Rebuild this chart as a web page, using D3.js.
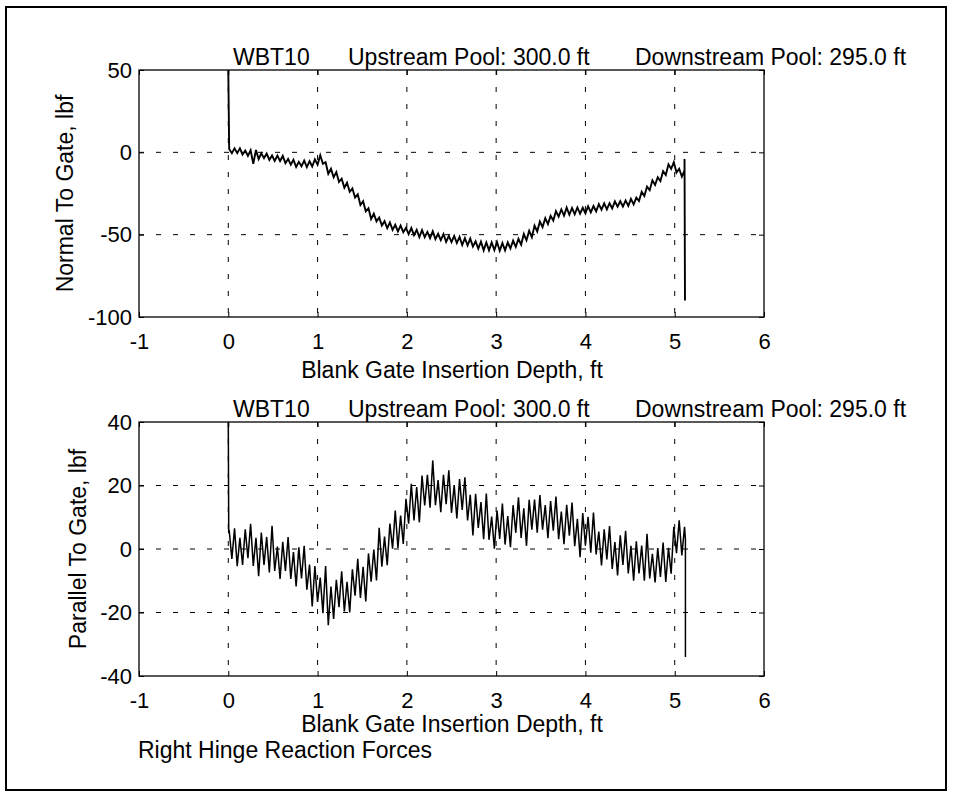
<!DOCTYPE html>
<html>
<head>
<meta charset="utf-8">
<script src="https://cdn.jsdelivr.net/npm/d3@7"></script>
<style>
  html, body { margin: 0; padding: 0; background: #fff; }
  svg { display: block; }
  text { font-family: "Liberation Sans", Arial, Helvetica, sans-serif; fill: #000; }
</style>
</head>
<body>
<svg id="chart" width="953" height="795"></svg>
<script>
// ---------------- DATA ----------------
const titleParts = ["WBT10", "Upstream Pool: 300.0 ft", "Downstream Pool: 295.0 ft"];
const xTicks = [-1, 0, 1, 2, 3, 4, 5, 6];
const yTicksTop = [50, 0, -50, -100];
const yTicksBottom = [40, 20, 0, -20, -40];
const xLabel = "Blank Gate Insertion Depth, ft";
const yLabelTop = "Normal To Gate, lbf";
const yLabelBottom = "Parallel To Gate, lbf";
const footer = "Right Hinge Reaction Forces";

// [depth ft, force lbf]
const normalToGate = [[0,50],[0.01,2],[0.04,-0.5],[0.07,2.4],[0.10,-0.5],[0.13,2.4],[0.16,-1.3],[0.19,1],[0.22,-2.1],[0.25,1.3],[0.28,-7],[0.31,1.4],[0.34,-4.1],[0.37,-0.6],[0.40,-3.5],[0.43,-0.8],[0.46,-4.6],[0.49,-1.9],[0.52,-5.2],[0.55,-2],[0.58,-5.3],[0.61,-2.2],[0.64,-6.6],[0.67,-4],[0.70,-7.5],[0.73,-4.5],[0.76,-8.9],[0.79,-5.8],[0.82,-8.5],[0.85,-5],[0.88,-9],[0.91,-5.4],[0.94,-8.6],[0.97,-4.3],[1.00,-7.5],[1.03,-1.8],[1.06,-7],[1.09,-6],[1.12,-13],[1.15,-10],[1.18,-15.2],[1.21,-12],[1.24,-18],[1.27,-16],[1.30,-21.5],[1.33,-18.5],[1.36,-24],[1.39,-22],[1.42,-27.5],[1.45,-25.5],[1.48,-32],[1.51,-29.7],[1.54,-35.8],[1.57,-34],[1.60,-40.5],[1.63,-37.2],[1.66,-41.9],[1.69,-39.6],[1.72,-44.5],[1.75,-41.8],[1.78,-46],[1.81,-42.6],[1.84,-47.1],[1.87,-44],[1.90,-48],[1.93,-44.5],[1.96,-48.5],[1.99,-45.9],[2.02,-49.7],[2.05,-46],[2.08,-50.3],[2.11,-47.1],[2.14,-51.4],[2.17,-47.2],[2.20,-51.5],[2.23,-48.3],[2.26,-52.1],[2.29,-47.9],[2.32,-52.7],[2.35,-49.5],[2.38,-53.3],[2.41,-49.6],[2.44,-54.4],[2.47,-50.7],[2.50,-54.5],[2.53,-50.8],[2.56,-55.1],[2.59,-51.4],[2.62,-56.3],[2.65,-52.1],[2.68,-56.5],[2.71,-52.4],[2.74,-57.2],[2.77,-54.1],[2.80,-58.5],[2.83,-54.2],[2.86,-59.5],[2.89,-54.7],[2.92,-59.5],[2.95,-54.7],[2.98,-59.4],[3.01,-54.5],[3.04,-59.8],[3.07,-55.1],[3.10,-59.5],[3.13,-54.7],[3.16,-58.4],[3.19,-53.6],[3.22,-57.4],[3.25,-52.5],[3.28,-56.1],[3.31,-49.6],[3.34,-53.4],[3.37,-47.7],[3.40,-51.5],[3.43,-44.5],[3.46,-48],[3.49,-42],[3.52,-45.4],[3.55,-40],[3.58,-43.6],[3.61,-38.6],[3.64,-41.4],[3.67,-35.7],[3.70,-39],[3.73,-34.7],[3.76,-38.4],[3.79,-33.6],[3.82,-37.9],[3.85,-33.8],[3.88,-37.6],[3.91,-33.5],[3.94,-37.3],[3.97,-33.7],[4.00,-37],[4.03,-32.7],[4.06,-36.4],[4.09,-32.6],[4.12,-35.8],[4.15,-31.5],[4.18,-34.8],[4.21,-31],[4.24,-34.7],[4.27,-30.9],[4.30,-34.1],[4.33,-29.8],[4.36,-33],[4.39,-29.7],[4.42,-32.9],[4.45,-29.2],[4.48,-32.5],[4.51,-28.3],[4.54,-31.6],[4.57,-27.5],[4.60,-29.5],[4.63,-24],[4.66,-26.5],[4.69,-20.8],[4.72,-23],[4.75,-17],[4.78,-19.8],[4.81,-15.1],[4.84,-17.4],[4.87,-11.5],[4.90,-13.8],[4.93,-7.3],[4.96,-10],[4.99,-6],[5.02,-12.3],[5.05,-10],[5.08,-14.7],[5.11,-11],[5.11,-4],[5.115,-90]];

const parallelToGate = [[0,40],[0.005,5],[0.01,6],[0.04,-3.1],[0.07,6.5],[0.10,-5.4],[0.13,3.5],[0.16,-5],[0.19,6.2],[0.22,-2.9],[0.25,7.9],[0.28,-5.3],[0.31,3.5],[0.34,-8.6],[0.37,5.2],[0.40,-5],[0.43,3.8],[0.46,-7.4],[0.49,7.3],[0.52,-6.9],[0.55,0.8],[0.58,-9.4],[0.61,2.3],[0.64,-6.9],[0.67,3.8],[0.70,-9.4],[0.73,-1],[0.76,-11.8],[0.79,0.5],[0.82,-9.3],[0.85,1],[0.88,-12.8],[0.91,-4.9],[0.94,-18.1],[0.97,-5.4],[1.00,-16.7],[1.03,-9],[1.06,-20.2],[1.09,-5.4],[1.12,-24],[1.15,-11.8],[1.18,-22],[1.21,-9.7],[1.24,-18.3],[1.27,-7],[1.30,-19.7],[1.33,-10.3],[1.36,-20],[1.39,-6.4],[1.42,-14.7],[1.45,-3.1],[1.48,-15.4],[1.51,-5.6],[1.54,-16.5],[1.57,-1.4],[1.60,-10.3],[1.63,-0.2],[1.66,-9.9],[1.69,6.7],[1.72,-5.6],[1.75,3.9],[1.78,-5.1],[1.81,8],[1.84,0.1],[1.87,12.1],[1.90,0.3],[1.93,10.5],[1.96,1.6],[1.99,15.8],[2.02,8],[2.05,20.5],[2.08,9],[2.11,19.5],[2.14,8.4],[2.17,23.1],[2.20,13.7],[2.23,23.4],[2.26,13],[2.29,27.9],[2.32,13.8],[2.35,21.7],[2.38,11.6],[2.41,23.4],[2.44,14.1],[2.47,24.8],[2.50,11.4],[2.53,20.1],[2.56,9.6],[2.59,22],[2.62,12.3],[2.65,22.6],[2.68,9],[2.71,17.1],[2.74,4.3],[2.77,17.4],[2.80,6.6],[2.83,14.8],[2.86,3.1],[2.89,17.5],[2.92,2.9],[2.95,10.2],[2.98,0.1],[3.01,12.1],[3.04,3.2],[3.07,14.3],[3.10,1.4],[3.13,10.4],[3.16,0.6],[3.19,13.8],[3.22,5.1],[3.25,16.3],[3.28,3.5],[3.31,12.8],[3.34,1],[3.37,15.5],[3.40,6.1],[3.43,15.6],[3.46,5.1],[3.49,17],[3.52,6.1],[3.55,13.8],[3.58,3.4],[3.61,15.1],[3.64,5.8],[3.67,16.5],[3.70,3.1],[3.73,11.8],[3.76,1.5],[3.79,13.9],[3.82,4.2],[3.85,14.6],[3.88,0.9],[3.91,9.5],[3.94,-2.6],[3.97,11.3],[4.00,1.2],[4.03,10.1],[4.06,-1.2],[4.09,11.5],[4.12,-1.7],[4.15,5.5],[4.18,-5.2],[4.21,6.2],[4.24,-3.3],[4.27,7.2],[4.30,-6.3],[4.33,2.2],[4.36,-8.3],[4.39,4.3],[4.42,-5],[4.45,5.7],[4.48,-7.7],[4.51,1],[4.54,-10],[4.57,2.4],[4.60,-7.7],[4.63,1.1],[4.66,-10],[4.69,4.8],[4.72,-9.3],[4.75,-1.5],[4.78,-10.5],[4.81,0.3],[4.84,-8.8],[4.87,2],[4.90,-10.4],[4.93,0.4],[4.96,-7.8],[4.99,7],[5.02,-1.3],[5.05,9],[5.08,-2],[5.11,7],[5.12,3],[5.12,-34]];

// ---------------- DRAW ----------------
const svg = d3.select("#chart");
const FONT = 23, TICKFONT = 22;

// outer frame
svg.append("rect").attr("x", 6).attr("y", 7).attr("width", 940).attr("height", 783)
  .attr("fill", "none").attr("stroke", "#000").attr("stroke-width", 2);

function panel(cfg) {
  const x = d3.scaleLinear().domain([-1, 6]).range([139, 764]);
  const y = d3.scaleLinear().domain(cfg.yDomain).range(cfg.yRange);
  const g = svg.append("g");
  const [y0, y1] = cfg.yRange;

  // grid
  const gx = xTicks.filter(t => t > -1 && t < 6);
  const gy = cfg.yTicks.filter(t => t > cfg.yDomain[0] && t < cfg.yDomain[1]);
  g.selectAll(".vg").data(gx).join("line")
    .attr("x1", d => x(d)).attr("x2", d => x(d)).attr("y1", y1).attr("y2", y0)
    .attr("stroke", "#000").attr("stroke-width", 1).attr("stroke-dasharray", "5,12");
  g.selectAll(".hg").data(gy).join("line")
    .attr("x1", 139).attr("x2", 764).attr("y1", d => y(d)).attr("y2", d => y(d))
    .attr("stroke", "#000").attr("stroke-width", 1).attr("stroke-dasharray", "5,12");

  // axes
  const fmt = d => String(d);
  const ax = g.append("g").attr("transform", `translate(0,${y0})`)
    .call(d3.axisBottom(x).tickValues(xTicks).tickFormat(fmt).tickSize(-5).tickPadding(16));
  const ay = g.append("g").attr("transform", `translate(139,0)`)
    .call(d3.axisLeft(y).tickValues(cfg.yTicks).tickFormat(fmt).tickSize(-5).tickPadding(7));
  const axT = g.append("g").attr("transform", `translate(0,${y1})`)
    .call(d3.axisTop(x).tickValues(xTicks).tickFormat("").tickSize(-5));
  const ayR = g.append("g").attr("transform", `translate(764,0)`)
    .call(d3.axisRight(y).tickValues(cfg.yTicks).tickFormat("").tickSize(-5));
  [ax, ay, axT, ayR].forEach(a => {
    a.select(".domain").remove();
    a.selectAll("line").attr("stroke", "#000");
    a.selectAll("text").attr("font-size", TICKFONT)
      .attr("font-family", '"Liberation Sans", Arial, Helvetica, sans-serif').attr("fill", "#000");
  });

  // data line
  const line = d3.line().x(d => x(d[0])).y(d => y(d[1]));
  g.append("path").datum(cfg.data).attr("d", line)
    .attr("fill", "none").attr("stroke", "#000").attr("stroke-width", cfg.lineWidth)
    .attr("stroke-linejoin", "miter");

  // box
  g.append("rect").attr("x", 139).attr("y", y1).attr("width", 625).attr("height", y0 - y1)
    .attr("fill", "none").attr("stroke", "#000").attr("stroke-width", 1.3);

  // titles
  const tx = [233, 348, 635];
  titleParts.forEach((t, i) => {
    g.append("text").attr("x", tx[i]).attr("y", cfg.titleY).attr("font-size", FONT).text(t);
  });

  // x label
  g.append("text").attr("x", 452).attr("y", cfg.xLabelY).attr("text-anchor", "middle")
    .attr("font-size", FONT).text(xLabel);

  // y label
  const cy = (y0 + y1) / 2;
  g.append("text").attr("transform", `translate(${cfg.yLabelX},${cy}) rotate(-90)`)
    .attr("text-anchor", "middle").attr("font-size", FONT).text(cfg.yLabel);
}

panel({
  yDomain: [-100, 50], yRange: [317, 70], yTicks: yTicksTop, data: normalToGate,
  titleY: 65, xLabelY: 378, yLabel: yLabelTop, yLabelX: 73, lineWidth: 1.9
});
panel({
  yDomain: [-40, 40], yRange: [676, 422], yTicks: yTicksBottom, data: parallelToGate,
  titleY: 417, xLabelY: 732, yLabel: yLabelBottom, yLabelX: 86, lineWidth: 1.5
});

svg.append("text").attr("x", 138).attr("y", 758).attr("font-size", FONT).text(footer);
</script>
</body>
</html>
